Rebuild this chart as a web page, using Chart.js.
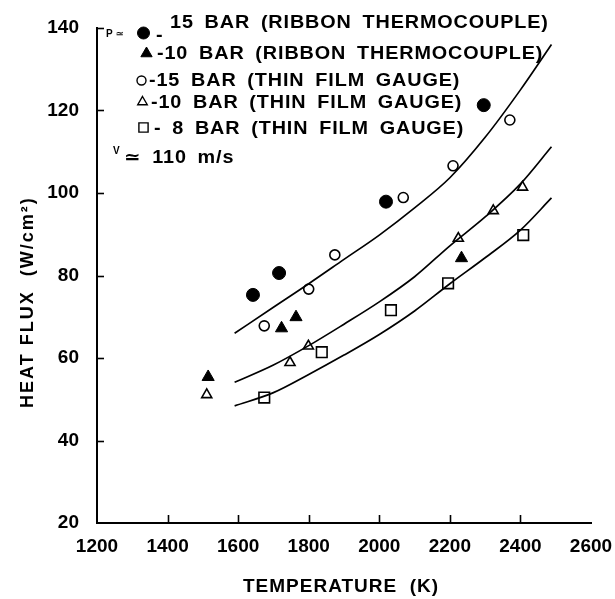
<!DOCTYPE html>
<html>
<head>
<meta charset="utf-8">
<title>Heat flux vs temperature</title>
<script src="https://cdn.jsdelivr.net/npm/chart.js@4.4.1/dist/chart.umd.min.js"></script>
<style>
  html, body { margin: 0; padding: 0; background: #fff; }
</style>
</head>
<body>
<canvas id="heatChart" width="615" height="599"></canvas>
<script>
// measured points, temperature (K) / heat flux (W/cm2)
const ribbon15Temp = [1642, 1716, 2019, 2296];
const ribbon15Flux = [75.3, 80.6, 97.9, 121.3];
const ribbon10Temp = [1515, 1723, 1764, 2233];
const ribbon10Flux = [55.4, 67.2, 69.9, 84.2];
const film15Temp = [1674, 1800, 1874, 2068, 2209, 2370];
const film15Flux = [67.8, 76.7, 85.0, 98.9, 106.6, 117.7];
const film10Temp = [1511, 1747, 1799, 2224, 2323, 2406];
const film10Flux = [51.1, 58.9, 62.9, 89.0, 95.7, 101.4];
const film8Temp = [1674, 1837, 2033, 2195, 2408];
const film8Flux = [50.4, 61.4, 71.6, 78.1, 89.8];

// fitted curves
const fitTemp = [1590, 1700, 1800, 1900, 2000, 2100, 2200, 2300, 2400, 2488];
const fit15Flux = [66.0, 72.3, 78.0, 83.9, 89.8, 96.4, 103.7, 113.5, 125.0, 136.0];
const fit10Flux = [54.1, 58.3, 63.0, 68.2, 73.6, 79.7, 87.2, 94.2, 102.2, 111.2];
const fit8Flux = [48.4, 51.6, 56.0, 60.7, 65.7, 71.4, 78.0, 84.3, 91.0, 98.8];

// axis ticks
const xTickValues = [1200, 1400, 1600, 1800, 2000, 2200, 2400, 2600];
const yTickValues = [20, 40, 60, 80, 100, 120, 140];

const legendLabels = [
    '15 BAR (RIBBON THERMOCOUPLE)',
    '-10 BAR (RIBBON THERMOCOUPLE)',
    '-15 BAR (THIN FILM GAUGE)',
    '-10 BAR (THIN FILM GAUGE)',
    '- 8 BAR (THIN FILM GAUGE)'
];
const velocityLabel = '\u2243 110 m/s';
const xTitle = 'TEMPERATURE  (K)';
const yTitle = 'HEAT FLUX  (W/cm\u00B2)';

const FONT = '"Liberation Sans", Arial, "DejaVu Sans", sans-serif';

function toPoints(temps, fluxes) {
    return temps.map((t, i) => ({ x: t, y: fluxes[i] }));
}

function markerSet(label, temps, fluxes, style, radius, filled) {
    return {
        label: label,
        data: toPoints(temps, fluxes),
        showLine: false,
        pointStyle: style,
        pointRadius: radius,
        pointHoverRadius: radius,
        pointBorderWidth: filled ? 1 : 1.6,
        pointBorderColor: '#000',
        pointBackgroundColor: filled ? '#000' : '#fff'
    };
}

function fitLine(label, fluxes) {
    return {
        label: label,
        data: toPoints(fitTemp, fluxes),
        showLine: true,
        pointRadius: 0,
        borderColor: '#000',
        borderWidth: 1.7,
        tension: 0.4,
        cubicInterpolationMode: 'monotone'
    };
}

// draws a legend marker the same way chart.js draws the points
function legendMarker(ctx, style, radius, filled, x, y) {
    ctx.save();
    ctx.fillStyle = filled ? '#000' : '#fff';
    ctx.strokeStyle = '#000';
    ctx.lineWidth = filled ? 1 : 1.4;
    Chart.helpers.drawPoint(ctx, { pointStyle: style, radius: radius, rotation: 0, borderWidth: ctx.lineWidth }, x, y);
    ctx.restore();
}

// wide lettering like the typed original
function wideText(ctx, text, x, y) {
    ctx.save();
    ctx.translate(x, y);
    ctx.scale(1.1, 1);
    ctx.fillText(text, 0, 0);
    ctx.restore();
}

// inward ticks, axis titles and the in-plot key
const paperDecor = {
    id: 'paperDecor',
    afterDraw(chart) {
        const ctx = chart.ctx;
        const xs = chart.scales.x;
        const ys = chart.scales.y;
        const area = chart.chartArea;

        ctx.save();
        ctx.strokeStyle = '#000';
        ctx.lineWidth = 1.6;
        xTickValues.slice(1, -1).forEach(v => {
            const px = Math.round(xs.getPixelForValue(v)) + 0.5;
            ctx.beginPath();
            ctx.moveTo(px, area.bottom);
            ctx.lineTo(px, area.bottom - 8);
            ctx.stroke();
        });
        yTickValues.slice(1).forEach(v => {
            const py = Math.round(ys.getPixelForValue(v)) + 0.5;
            ctx.beginPath();
            ctx.moveTo(area.left, py);
            ctx.lineTo(area.left + 7, py);
            ctx.stroke();
        });

        ctx.fillStyle = '#000';
        ctx.textAlign = 'left';
        ctx.textBaseline = 'alphabetic';

        // axis titles
        ctx.font = 'bold 19px ' + FONT;
        ctx.letterSpacing = '1px';
        ctx.fillText(xTitle, 243, 592);

        ctx.save();
        ctx.translate(33, 408);
        ctx.rotate(-Math.PI / 2);
        ctx.font = 'bold 18px ' + FONT;
        ctx.letterSpacing = '2px';
        ctx.fillText(yTitle, 0, 0);
        ctx.restore();

        // key
        ctx.font = 'bold 10px ' + FONT;
        ctx.letterSpacing = '0px';
        ctx.fillText('P \u2243', 106, 37);
        ctx.fillText('V', 113, 154);

        legendMarker(ctx, 'circle', 6, true, 143.5, 33);
        legendMarker(ctx, 'triangle', 6.5, true, 146.5, 53.5);
        legendMarker(ctx, 'circle', 4.5, false, 141.5, 80.5);
        legendMarker(ctx, 'triangle', 5.5, false, 142.5, 102);
        legendMarker(ctx, 'rect', 6.5, false, 143.5, 127.5);

        ctx.font = 'bold 18px ' + FONT;
        ctx.letterSpacing = '0.8px';
        ctx.wordSpacing = '4px';
        wideText(ctx, '-', 156, 41);
        wideText(ctx, legendLabels[0], 170, 28);
        wideText(ctx, legendLabels[1], 157, 58.5);
        wideText(ctx, legendLabels[2], 149, 85.5);
        wideText(ctx, legendLabels[3], 151, 108);
        wideText(ctx, legendLabels[4], 154, 133.5);
        wideText(ctx, velocityLabel, 124, 163);
        ctx.restore();
    }
};

const ctx = document.getElementById('heatChart').getContext('2d');

const heatChart = new Chart(ctx, {
    type: 'scatter',
    data: {
        datasets: [
            fitLine('15 bar fit', fit15Flux),
            fitLine('10 bar fit', fit10Flux),
            fitLine('8 bar fit', fit8Flux),
            markerSet('15 BAR (RIBBON THERMOCOUPLE)', ribbon15Temp, ribbon15Flux, 'circle', 6.5, true),
            markerSet('10 BAR (RIBBON THERMOCOUPLE)', ribbon10Temp, ribbon10Flux, 'triangle', 7, true),
            markerSet('15 BAR (THIN FILM GAUGE)', film15Temp, film15Flux, 'circle', 5, false),
            markerSet('10 BAR (THIN FILM GAUGE)', film10Temp, film10Flux, 'triangle', 5.8, false),
            markerSet('8 BAR (THIN FILM GAUGE)', film8Temp, film8Flux, 'rect', 7.5, false)
        ]
    },
    options: {
        responsive: false,
        animation: false,
        devicePixelRatio: 1,
        layout: { padding: { top: 28, right: 24, left: 0, bottom: 0 } },
        plugins: {
            legend: { display: false },
            tooltip: { enabled: false }
        },
        scales: {
            x: {
                type: 'linear',
                min: 1200,
                max: 2600,
                afterBuildTicks: scale => { scale.ticks = xTickValues.map(v => ({ value: v })); },
                afterFit: scale => {
                    scale.height = 76;
                    scale.paddingLeft = 0;
                    scale.paddingRight = 0;
                },
                grid: { display: false, drawTicks: false },
                border: { display: true, color: '#000', width: 2 },
                ticks: {
                    color: '#000',
                    padding: 12,
                    maxRotation: 0,
                    callback: v => String(v),
                    font: { family: FONT, size: 19, weight: 'bold' }
                }
            },
            y: {
                type: 'linear',
                min: 20,
                max: 140,
                afterBuildTicks: scale => { scale.ticks = yTickValues.map(v => ({ value: v })); },
                afterFit: scale => {
                    scale.width = 97;
                    scale.paddingTop = 0;
                    scale.paddingBottom = 0;
                },
                grid: { display: false, drawTicks: false },
                border: { display: true, color: '#000', width: 2 },
                ticks: {
                    color: '#000',
                    padding: 18,
                    callback: v => String(v),
                    font: { family: FONT, size: 19, weight: 'bold' }
                }
            }
        }
    },
    plugins: [paperDecor]
});
</script>
</body>
</html>
